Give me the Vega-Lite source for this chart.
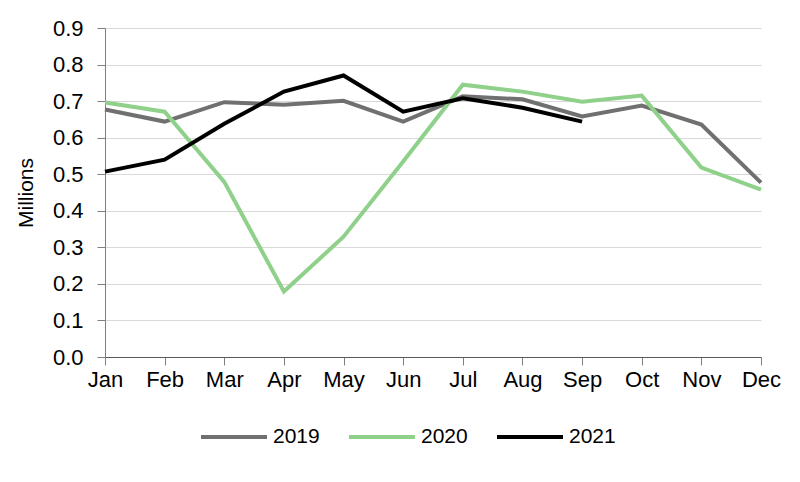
{
  "$schema": "https://vega.github.io/schema/vega-lite/v6.json",
  "width": 656,
  "height": 329,
  "autosize": "none",
  "padding": {"left": 105, "top": 28, "right": 39, "bottom": 125},
  "background": "white",
  "config": {
    "font": "Liberation Sans",
    "view": {"stroke": null},
    "axis": {
      "labelFont": "Liberation Sans",
      "labelFontSize": 22,
      "labelColor": "black",
      "titleFont": "Liberation Sans",
      "titleFontSize": 21,
      "titleFontWeight": "normal",
      "titleColor": "black",
      "domainColor": "#7f7f7f",
      "tickColor": "#7f7f7f",
      "tickSize": 8,
      "gridColor": "#d9d9d9",
      "gridWidth": 1.2
    }
  },
  "data": {
    "values": [
      {"month": "Jan", "year": "2019", "value": 0.677},
      {"month": "Feb", "year": "2019", "value": 0.644},
      {"month": "Mar", "year": "2019", "value": 0.697},
      {"month": "Apr", "year": "2019", "value": 0.690},
      {"month": "May", "year": "2019", "value": 0.701},
      {"month": "Jun", "year": "2019", "value": 0.644},
      {"month": "Jul", "year": "2019", "value": 0.713},
      {"month": "Aug", "year": "2019", "value": 0.705},
      {"month": "Sep", "year": "2019", "value": 0.658},
      {"month": "Oct", "year": "2019", "value": 0.688},
      {"month": "Nov", "year": "2019", "value": 0.636},
      {"month": "Dec", "year": "2019", "value": 0.477},
      {"month": "Jan", "year": "2020", "value": 0.696},
      {"month": "Feb", "year": "2020", "value": 0.671},
      {"month": "Mar", "year": "2020", "value": 0.479},
      {"month": "Apr", "year": "2020", "value": 0.179},
      {"month": "May", "year": "2020", "value": 0.329},
      {"month": "Jun", "year": "2020", "value": 0.535},
      {"month": "Jul", "year": "2020", "value": 0.745},
      {"month": "Aug", "year": "2020", "value": 0.726},
      {"month": "Sep", "year": "2020", "value": 0.698},
      {"month": "Oct", "year": "2020", "value": 0.715},
      {"month": "Nov", "year": "2020", "value": 0.518},
      {"month": "Dec", "year": "2020", "value": 0.458},
      {"month": "Jan", "year": "2021", "value": 0.507},
      {"month": "Feb", "year": "2021", "value": 0.540},
      {"month": "Mar", "year": "2021", "value": 0.638},
      {"month": "Apr", "year": "2021", "value": 0.726},
      {"month": "May", "year": "2021", "value": 0.770},
      {"month": "Jun", "year": "2021", "value": 0.671},
      {"month": "Jul", "year": "2021", "value": 0.708},
      {"month": "Aug", "year": "2021", "value": 0.682},
      {"month": "Sep", "year": "2021", "value": 0.644}
    ]
  },
  "mark": {"type": "line", "strokeWidth": 4, "strokeJoin": "miter"},
  "encoding": {
    "x": {
      "field": "month",
      "type": "ordinal",
      "sort": ["Jan","Feb","Mar","Apr","May","Jun","Jul","Aug","Sep","Oct","Nov","Dec"],
      "scale": {"type": "point", "padding": 0},
      "axis": {"title": null, "labelAngle": 0, "labelPadding": 4, "grid": false, "domainColor": "#595959"}
    },
    "y": {
      "field": "value",
      "type": "quantitative",
      "scale": {"domain": [0, 0.9], "nice": false},
      "axis": {"title": "Millions", "format": ".1f", "values": [0,0.1,0.2,0.3,0.4,0.5,0.6,0.7,0.8,0.9], "labelOverlap": false, "labelPadding": 14, "titlePadding": 16}
    },
    "color": {
      "field": "year",
      "type": "nominal",
      "scale": {"domain": ["2019", "2020", "2021"], "range": ["#707070", "#8fd18a", "#000000"]},
      "legend": {
        "title": null,
        "orient": "none",
        "legendX": 94,
        "legendY": 374,
        "direction": "horizontal",
        "symbolType": "stroke",
        "symbolSize": 4356,
        "symbolStrokeWidth": 4,
        "labelFont": "Liberation Sans",
        "labelFontSize": 21,
        "labelColor": "black",
        "labelOffset": 4,
        "columnPadding": 21
      }
    }
  }
}
